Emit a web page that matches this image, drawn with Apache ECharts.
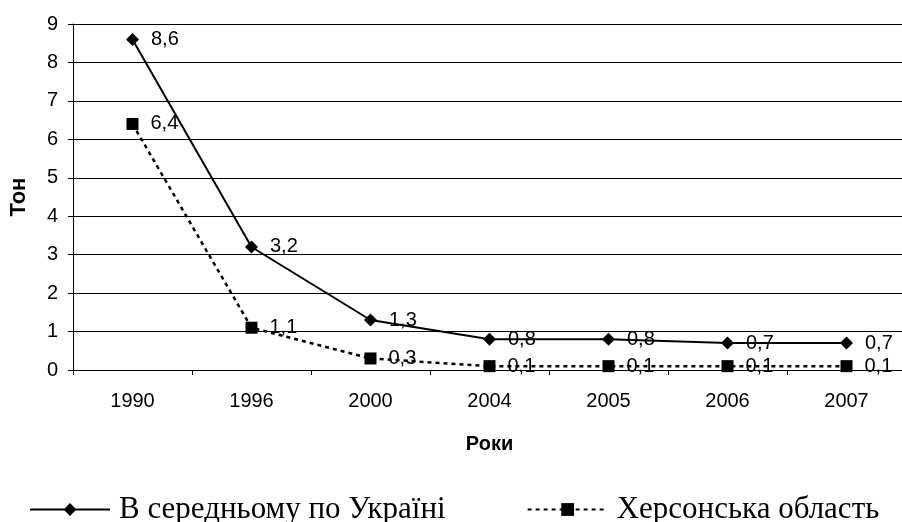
<!DOCTYPE html>
<html>
<head>
<meta charset="utf-8">
<script src="https://cdn.jsdelivr.net/npm/echarts@6/dist/echarts.min.js"></script>
<style>
  html, body { margin: 0; padding: 0; background: #fff; }
  #chart { width: 902px; height: 522px; }
</style>
</head>
<body>
<div id="chart"></div>
<script>
var years = ['1990', '1996', '2000', '2004', '2005', '2006', '2007'];
var ukraineAvg = [8.6, 3.2, 1.3, 0.8, 0.8, 0.7, 0.7];
var khersonReg = [6.4, 1.1, 0.3, 0.1, 0.1, 0.1, 0.1];
var seriesNames = ['В середньому по Україні', 'Херсонська область'];

var font = 'Liberation Sans, Arial, sans-serif';

function commaLabel(p) {
	return String(p.value).replace('.', ',');
}

var chart = echarts.init(document.getElementById('chart'));
var option = {
	animation : false,
	backgroundColor : '#fff',
	textStyle : { fontFamily : font },
	grid : {
		left : 73,
		right : -4,
		top : 24,
		bottom : 152,
		containLabel : false,
		outerBoundsMode : 'none'
	},
	legend : {
		left : 29,
		top : 494,
		padding : 0,
		itemWidth : 80,
		itemHeight : 16,
		itemGap : 81,
		textStyle : {
			fontFamily : 'Liberation Serif, Times New Roman, serif',
			fontSize : 31,
			color : '#000',
			padding : [0, 0, 0, 4]
		},
		data : seriesNames
	},
	xAxis : {
		type : 'category',
		data : years,
		boundaryGap : true,
		name : 'Роки',
		nameLocation : 'middle',
		nameGap : 64,
		nameTextStyle : { fontWeight : 'bold', fontSize : 20, color : '#000', fontFamily : font },
		axisLine : { lineStyle : { color : '#000', width : 1 } },
		axisTick : { show : true, length : 5, lineStyle : { color : '#000' } },
		axisLabel : { fontSize : 20, color : '#000', margin : 21, fontFamily : font }
	},
	yAxis : {
		type : 'value',
		min : 0,
		max : 9,
		interval : 1,
		name : 'Тон',
		nameLocation : 'middle',
		nameGap : 43,
		nameRotate : 90,
		nameTextStyle : { fontWeight : 'bold', fontSize : 22, color : '#000', fontFamily : font },
		axisLine : { show : true, lineStyle : { color : '#000', width : 1 } },
		axisTick : { show : true, length : 5, lineStyle : { color : '#000' } },
		axisLabel : { fontSize : 20, color : '#000', margin : 15, fontFamily : font },
		splitLine : { show : true, lineStyle : { color : '#000', width : 1 } }
	},
	series : [
		{
			name : seriesNames[0],
			type : 'line',
			data : ukraineAvg,
			symbol : 'diamond',
			symbolSize : 13,
			itemStyle : { color : '#000' },
			lineStyle : { color : '#000', width : 2, type : 'solid' },
			label : {
				show : true,
				position : 'right',
				distance : 12,
				fontSize : 20,
				color : '#000',
				fontFamily : font,
				formatter : commaLabel
			},
			z : 3
		},
		{
			name : seriesNames[1],
			type : 'line',
			data : khersonReg,
			symbol : 'rect',
			symbolSize : 12,
			itemStyle : { color : '#000' },
			lineStyle : { color : '#000', width : 2.5, type : [4, 4] },
			label : {
				show : true,
				position : 'right',
				distance : 12,
				fontSize : 20,
				color : '#000',
				fontFamily : font,
				formatter : commaLabel
			},
			z : 2
		}
	]
};
chart.setOption(option);
window.onresize = chart.resize;
</script>
</body>
</html>
